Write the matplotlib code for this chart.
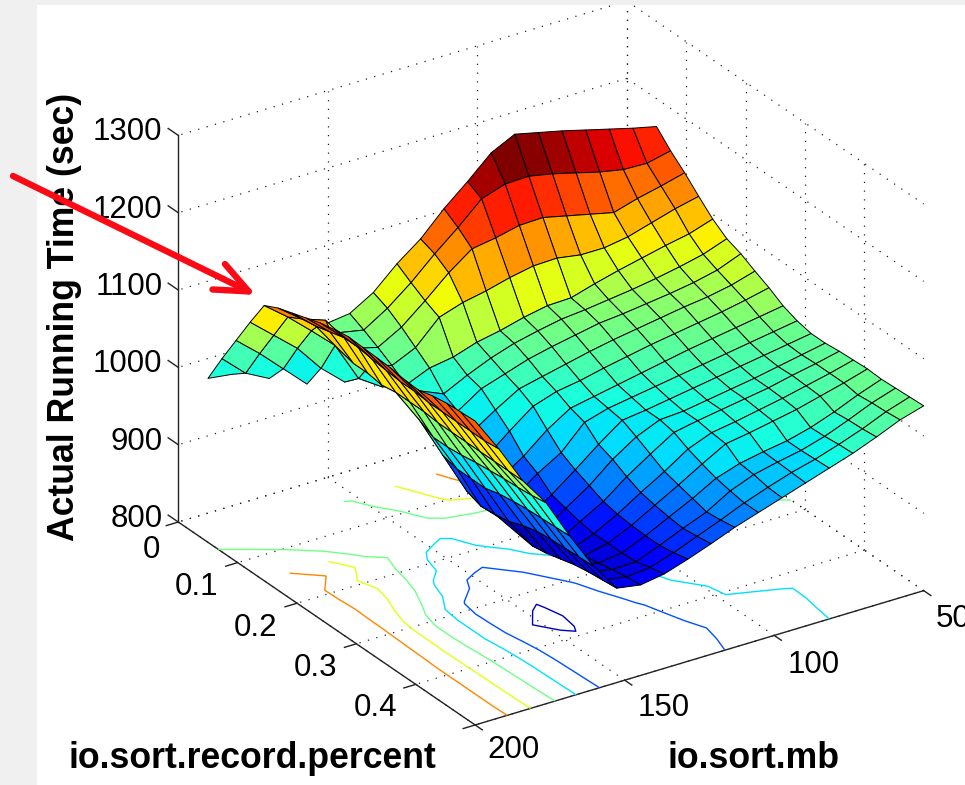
import numpy as np
import matplotlib
matplotlib.use("Agg")
import matplotlib.pyplot as plt
from matplotlib.patches import Rectangle, FancyArrowPatch
from mpl_toolkits.mplot3d import proj3d
from mpl_toolkits.mplot3d.art3d import Poly3DCollection

nan = float("nan")

# ---- data ----
mb = [50, 57.9, 65.8, 73.7, 81.6, 89.5, 97.4, 105.3, 113.2, 121.1,
      128.9, 136.8, 144.7, 152.6, 160.5, 168.4, 176.3, 184.2, 192.1, 200]
perc = [0.05, 0.0737, 0.0974, 0.1211, 0.1447, 0.1684, 0.1921, 0.2158, 0.2395, 0.2632,
        0.2868, 0.3105, 0.3342, 0.3579, 0.3816, 0.4053, 0.4289, 0.4526, 0.4763, 0.5]
run_time = [
    [1164, 1171, 1179, 1187, 1195, 1202, 1209, 1194, 1166, 1140, 1110, 1087, 1059, 1041, 1037, nan, nan, nan, 1008, 1012],
    [1145, 1138, 1139, 1145, 1153, 1161, 1167, 1166, 1156, 1128, 1103, 1075, 1051, 1032, 1038, nan, nan, 1006, 1022, 1050],
    [1129, 1121, 1114, 1105, 1112, 1119, 1126, 1125, 1118, 1113, 1091, 1064, 1039, 1022, 1030, nan, 1002, 1031, 1060, 1086],
    [1111, 1104, 1095, 1086, 1081, 1081, 1086, 1085, 1079, 1071, 1065, 1055, 1025, 1011, 1021, 1008, 1035, 1070, 1096, 1122],
    [1094, 1084, 1078, 1071, 1064, 1056, 1047, 1046, 1040, 1032, 1026, 1016, 1011, 998, 1005, 1025, 1077, 1105, 1132, 1156],
    [1081, 1070, 1063, 1057, 1052, 1048, 1044, 1041, 1035, 1028, 1018, 1005, 990, 1003, 1028, 1060, 1093, 1131, 1142, 1165],
    [1074, 1062, 1055, 1050, 1046, 1042, 1039, 1033, 1027, 1020, 1010, 1000, 980, 985, 1020, 1052, 1078, 1105, 1145, 1171],
    [1064, 1055, 1049, 1045, 1040, 1035, 1030, 1024, 1017, 1010, 1003, 985, 965, 978, 1012, 1048, 1085, 1100, 1150, 1177],
    [1055, 1048, 1042, 1037, 1032, 1027, 1021, 1015, 1008, 1003, 993, 970, 945, 955, 985, 1040, 1082, 1100, 1155, 1183],
    [1044, 1039, 1034, 1029, 1024, 1018, 1012, 1006, 1000, 994, 975, 950, 930, 940, 975, 1022, 1075, 1097, 1155, 1187],
    [1037, 1032, 1027, 1022, 1017, 1012, 1007, 1002, 997, 988, 958, 940, 918, 920, 945, 1000, 1055, 1100, 1152, 1190],
    [1033, 1028, 1023, 1018, 1013, 1008, 1003, 998, 994, 972, 948, 925, 905, 910, 938, 995, 1045, 1100, 1150, 1189],
    [1033, 1027, 1021, 1015, 1010, 1005, 1000, 998, 985, 965, 940, 920, 900, 905, 940, 995, 1045, 1100, 1148, 1188],
    [1035, 1028, 1022, 1015, 1010, 1005, 1000, 994, 975, 955, 932, 915, 897, 902, 943, 995, 1047, 1098, 1148, 1187],
    [1036, 1028, 1021, 1014, 1008, 1002, 997, 985, 965, 947, 928, 912, 900, 905, 950, 1000, 1050, 1098, 1146, 1184],
    [1037, 1028, 1020, 1012, 1006, 1000, 995, 978, 960, 943, 926, 912, 905, 910, 955, 1003, 1052, 1098, 1146, 1183],
    [1036, 1025, 1012, 1001, 993, 988, 982, 972, 955, 940, 925, 912, 908, 915, 957, 1005, 1054, 1098, 1146, 1188],
    [1037, 1027, 1014, 1002, 993, 987, 980, 968, 950, 938, 925, 913, 912, 918, 958, 1006, 1055, 1098, 1146, 1191],
    [1038, 1028, 1015, 1004, 994, 986, 976, 965, 952, 940, 928, 918, 915, 920, 959, 1007, 1057, 1098, 1146, 1192],
    [1039, 1030, 1017, 1005, 995, 985, 975, 965, 955, 943, 932, 922, 917, 922, 960, 1008, 1060, 1098, 1148, 1193],
]
low_levels = [902, 950, 995, 1040]
high_levels = [1085, 1130]
mb_ticks = [50, 100, 150, 200]
perc_ticks = [0, 0.1, 0.2, 0.3, 0.4, 0.5]
time_ticks = [800, 900, 1000, 1100, 1200, 1300]

plt.rcParams["font.family"] = ["Liberation Sans", "DejaVu Sans"]

W, H = 965, 785
fig = plt.figure(figsize=(W / 100, H / 100), dpi=100, facecolor="white")

# grey window border at the left and on top
fig.add_artist(Rectangle((0, 0), 37 / W, 1, transform=fig.transFigure, color="#f0f0f0", lw=0))
fig.add_artist(Rectangle((0, 1 - 5 / H), 1, 5 / H, transform=fig.transFigure, color="#f0f0f0", lw=0))

ax = fig.add_axes([114.5 / W, -14.5 / H, 850 / W, 850 / H], projection="3d")
ax.set_proj_type("ortho")
ax.view_init(elev=26.9, azim=56.5)
ax.set_box_aspect((1, 1, 0.806))
ax.set_axis_off()
ax.patch.set_alpha(0)
ax.computed_zorder = False

X, Y = np.meshgrid(mb, perc)
Z = np.array(run_time, dtype=float)
norm = plt.Normalize(885, 1205)
cmap = plt.cm.jet

# dotted grid on the floor and the two back walls
grid = dict(color="#222222", lw=0.9, ls=(0, (1, 6)), zorder=1)
for m in mb_ticks:
    ax.plot([m, m], [0, 0.5], [800, 800], **grid)
    if m < 200:
        ax.plot([m, m], [0, 0], [800, 1300], **grid)
for p in perc_ticks:
    ax.plot([50, 200], [p, p], [800, 800], **grid)
    if p < 0.5:
        ax.plot([50, 50], [p, p], [800, 1300], **grid)
for t in time_ticks:
    ax.plot([50, 200], [0, 0], [t, t], **grid)
    ax.plot([50, 50], [0, 0.5], [t, t], **grid)

# solid axis lines and tick marks
axis = dict(color="#222222", lw=1.0, zorder=1.5)
ax.plot([200, 200], [0, 0.5], [800, 800], **axis)
ax.plot([50, 200], [0.5, 0.5], [800, 800], **axis)
ax.plot([200, 200], [0, 0], [800, 1300], **axis)
for m in mb_ticks:
    ax.plot([m, m], [0.5, 0.512], [800, 800], **axis)
for p in perc_ticks:
    ax.plot([200, 204], [p, p], [800, 800], **axis)
for t in time_ticks:
    ax.plot([200, 200], [0, -0.017], [t, t], **axis)

# contour lines on the floor
Zm = np.ma.masked_invalid(Z)
ax.contour(X, Y, Zm, levels=low_levels, zdir="z", offset=800, cmap=cmap, norm=norm,
           linewidths=1.0, zorder=2)
Zhigh = Zm.copy()
Zhigh[:4, 16:] = np.ma.masked
ax.contour(X, Y, Zhigh, levels=high_levels, zdir="z", offset=800, cmap=cmap, norm=norm,
           linewidths=1.0, zorder=2)

# surface, each cell coloured from its first corner
polys, colors = [], []
for r in range(len(perc) - 1):
    for c in range(len(mb) - 1):
        corners = [(r, c), (r, c + 1), (r + 1, c + 1), (r + 1, c)]
        if any(np.isnan(Z[i, j]) for i, j in corners):
            continue
        polys.append([(X[i, j], Y[i, j], Z[i, j]) for i, j in corners])
        colors.append(cmap(norm(Z[r, c])))
surf = Poly3DCollection(polys, facecolors=colors, edgecolors="k", linewidths=0.7, zorder=3)
ax.add_collection3d(surf)

ax.set_xlim(50, 200)
ax.set_ylim(0, 0.5)
ax.set_zlim(800, 1300)


def tick_label(m, p, t, text, dx, dy, ha="center"):
    # place text a few pixels away from the projected tick position
    x2, y2, _ = proj3d.proj_transform(m, p, t, ax.get_proj())
    ax.annotate(text, xy=(x2, y2), xycoords="data", xytext=(dx, -dy), textcoords="offset pixels",
                fontsize=22.5, color="k", ha=ha, va="center", annotation_clip=False)


for t in time_ticks:
    tick_label(200, 0, t, str(t), -16, -3, ha="right")
for p, dx, dy in zip([0, 0.1, 0.2, 0.3, 0.4], [-27, -41, -41, -41, -40], [28, 24, 25, 24, 24]):
    tick_label(200, p, 800, str(p), dx, dy)
for m, dx, dy in zip([200, 150, 100, 50], [38, 39, 39, 29], [25, 28, 30, 28]):
    tick_label(m, 0.5, 800, str(m), dx, dy)

fig.text(252 / W, 1 - 758 / H, "io.sort.record.percent", fontsize=25.7, fontweight="bold", ha="center", va="center")
fig.text(754 / W, 1 - 758 / H, "io.sort.mb", fontsize=25.7, fontweight="bold", ha="center", va="center")
fig.text(65 / W, 1 - 317 / H, "Actual Running Time (sec)", fontsize=25.7, fontweight="bold",
         rotation=90, ha="center", va="center")

# red arrow pointing at the peak
fig.add_artist(FancyArrowPatch((13 / W, 1 - 176 / H), (256 / W, 1 - 295 / H),
                               transform=fig.transFigure,
                               arrowstyle="->,head_length=8,head_width=3.4", mutation_scale=3,
                               color="#fa0a14", lw=4.6, shrinkA=0, shrinkB=0, zorder=10))

fig.savefig("out.png", dpi=100)
